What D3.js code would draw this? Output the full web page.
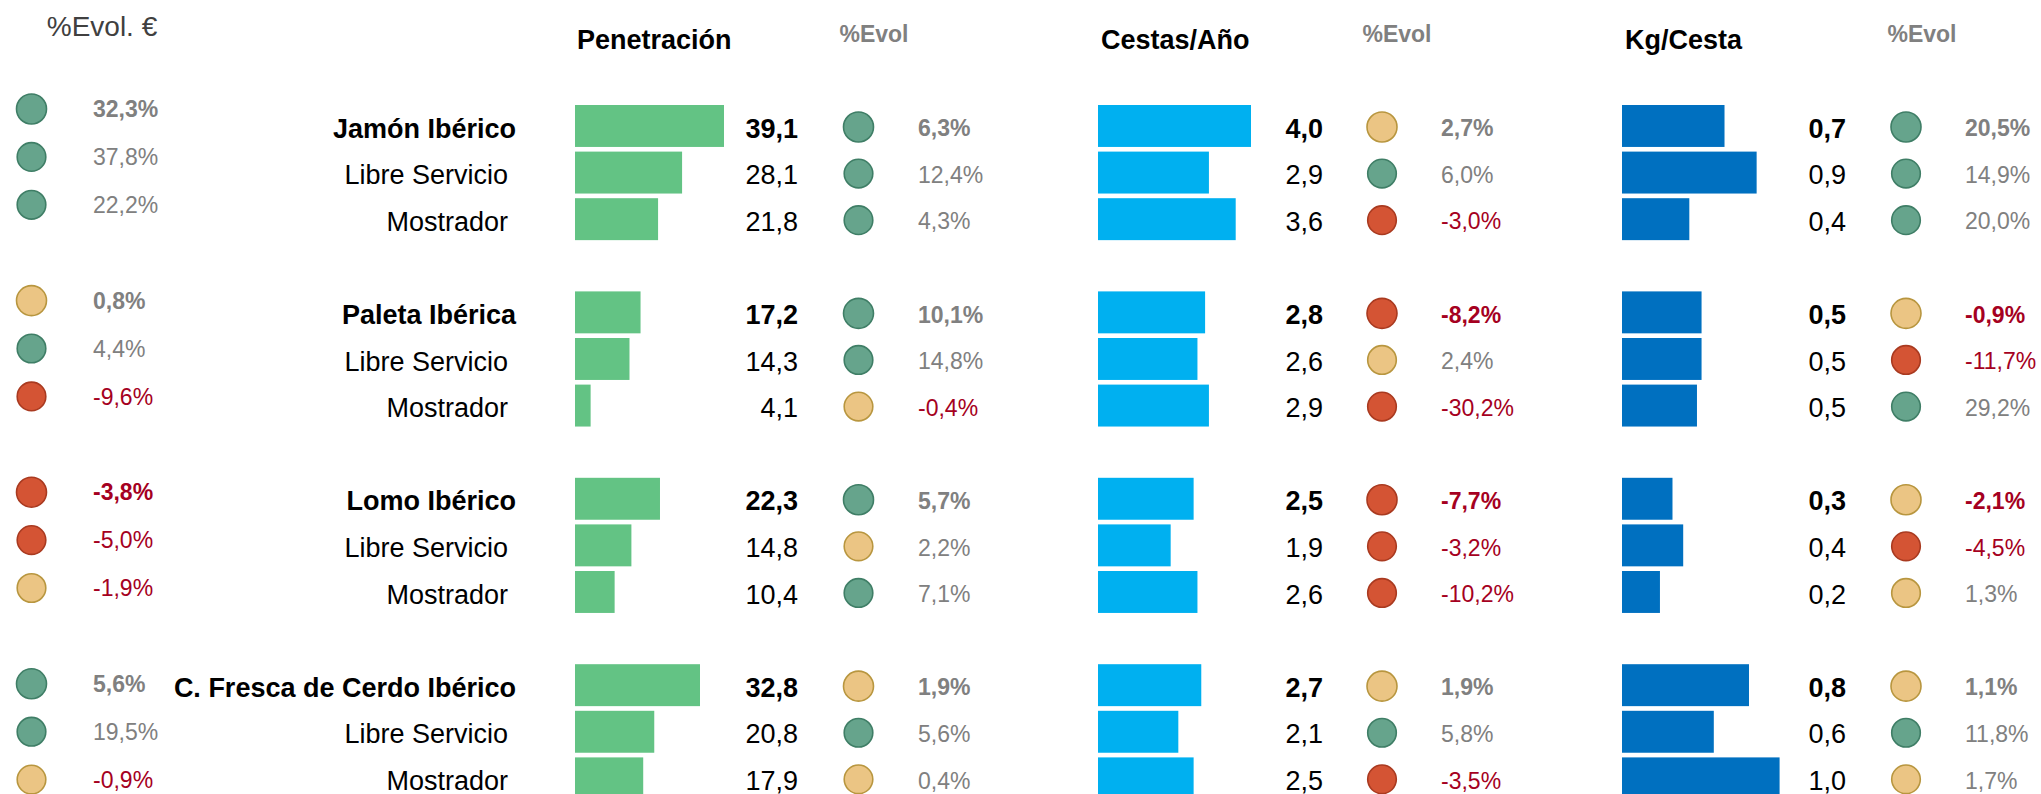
<!DOCTYPE html>
<html>
<head>
<meta charset="utf-8">
<script src="https://cdn.jsdelivr.net/npm/d3@7/dist/d3.min.js"></script>
<style>
  html, body { margin: 0; padding: 0; background: #ffffff; }
  svg { display: block; }
  text { font-family: "Liberation Sans", Arial, Helvetica, sans-serif; }
</style>
</head>
<body>
<svg id="chart" width="2041" height="794"></svg>
<script>
// ---------------- DATA ----------------
const categories = ["Jamón Ibérico", "Libre Servicio", "Mostrador",
                    "Paleta Ibérica", "Libre Servicio", "Mostrador",
                    "Lomo Ibérico", "Libre Servicio", "Mostrador",
                    "C. Fresca de Cerdo Ibérico", "Libre Servicio", "Mostrador"];
const evolEuro    = [32.3, 37.8, 22.2, 0.8, 4.4, -9.6, -3.8, -5.0, -1.9, 5.6, 19.5, -0.9];
const penetracion = [39.1, 28.1, 21.8, 17.2, 14.3, 4.1, 22.3, 14.8, 10.4, 32.8, 20.8, 17.9];
const evolPen     = [6.3, 12.4, 4.3, 10.1, 14.8, -0.4, 5.7, 2.2, 7.1, 1.9, 5.6, 0.4];
const cestasAno   = [4.0, 2.9, 3.6, 2.8, 2.6, 2.9, 2.5, 1.9, 2.6, 2.7, 2.1, 2.5];
const evolCestas  = [2.7, 6.0, -3.0, -8.2, 2.4, -30.2, -7.7, -3.2, -10.2, 1.9, 5.8, -3.5];
const kgCesta     = [0.67, 0.88, 0.44, 0.52, 0.52, 0.49, 0.33, 0.40, 0.248, 0.83, 0.60, 1.03];
const evolKg      = [20.5, 14.9, 20.0, -0.9, -11.7, 29.2, -2.1, -4.5, 1.3, 1.1, 11.8, 1.7];
const headers     = ["Penetración", "Cestas/Año", "Kg/Cesta"];
const evolHeader  = "%Evol";
const evolEuroHeader = "%Evol. €";

// ---------------- HELPERS ----------------
const svg = d3.select("#chart");
const esLocale = d3.formatLocale({ decimal: ",", thousands: ".", grouping: [3], currency: ["", " €"], minus: "-" });
const fmt1 = esLocale.format(".1f");
const fmtPct = v => fmt1(v) + "%";
const isTotal = i => i % 3 === 0;
const slot = i => Math.floor(i / 3) * 4 + (i % 3);   // blank slot between groups
const rows = d3.range(categories.length);

const C = {
  green: "#66A48C", greenS: "#3F7E66",
  yellow: "#EBC584", yellowS: "#B8963F",
  red: "#D45434", redS: "#A93A20",
  grey: "#808080", neg: "#A50021"
};
const status = v => v > 3 ? "green" : (v < -2.5 ? "red" : "yellow");

// vertical scales
const yMain = d3.scaleBand().domain(d3.range(15)).range([105, 105 + 46.6 * 14.9]).paddingInner(0.1).paddingOuter(0);
const yLeft = d3.scalePoint().domain(d3.range(15)).range([109, 109 + 47.9 * 14]);
const rowC = i => yMain(slot(i)) + yMain.bandwidth() / 2;

// horizontal scales for the three bar columns
const xPen = d3.scaleLinear().domain([0, 39.1]).range([0, 149]);
const xCes = d3.scaleLinear().domain([0, 4.0]).range([0, 153]);
const xKg  = d3.scaleLinear().domain([0, 1.0]).range([0, 153]);

function dot(g, cx, cy, v, big) {
  const s = status(v);
  g.append("circle")
    .attr("cx", cx).attr("cy", cy)
    .attr("r", big ? 15 : 14.3)
    .attr("fill", C[s]).attr("stroke", C[s + "S"]).attr("stroke-width", 1.6);
}
function evolText(g, x, y, v, bold, anchor) {
  g.append("text")
    .attr("x", x).attr("y", y).attr("dy", "0.36em")
    .attr("text-anchor", anchor || "start")
    .attr("font-size", 23)
    .attr("font-weight", bold ? "bold" : "normal")
    .attr("fill", v < 0 ? C.neg : C.grey)
    .text(fmtPct(v));
}

// ---------------- LEFT COLUMN (%Evol. €) ----------------
svg.append("text").attr("x", 102).attr("y", 36).attr("text-anchor", "middle")
  .attr("font-size", 28).attr("fill", "#404040").text(evolEuroHeader);
const gl = svg.append("g");
rows.forEach(i => {
  const cy = yLeft(slot(i));
  dot(gl, 31.5, cy, evolEuro[i], isTotal(i));
  evolText(gl, 93, cy, evolEuro[i], isTotal(i));
});

// ---------------- CATEGORY LABELS ----------------
const gc = svg.append("g");
rows.forEach(i => {
  gc.append("text")
    .attr("x", isTotal(i) ? 516 : 508)
    .attr("y", rowC(i) + 2).attr("dy", "0.36em")
    .attr("text-anchor", "end")
    .attr("font-size", 27)
    .attr("font-weight", isTotal(i) ? "bold" : "normal")
    .attr("fill", "#000")
    .text(categories[i]);
});

// ---------------- METRIC BLOCKS ----------------
const blocks = [
  { title: headers[0], vals: penetracion, evol: evolPen,    x: xPen, bx: 575,  color: "#63C384", vx: 798,  cx: 858.5, ex: 918,  tx: 577,  hx: 874 },
  { title: headers[1], vals: cestasAno,   evol: evolCestas, x: xCes, bx: 1098, color: "#00B0F0", vx: 1323, cx: 1382,  ex: 1441, tx: 1101, hx: 1397 },
  { title: headers[2], vals: kgCesta,     evol: evolKg,     x: xKg,  bx: 1622, color: "#0070C0", vx: 1846, cx: 1906,  ex: 1965, tx: 1625, hx: 1922 }
];

blocks.forEach(b => {
  const g = svg.append("g");
  g.append("text").attr("x", b.tx).attr("y", 49)
    .attr("font-size", 27).attr("font-weight", "bold").attr("fill", "#000").text(b.title);
  g.append("text").attr("x", b.hx).attr("y", 42).attr("text-anchor", "middle")
    .attr("font-size", 23).attr("font-weight", "bold").attr("fill", C.grey).text(evolHeader);

  g.selectAll("rect").data(rows).join("rect")
    .attr("x", b.bx)
    .attr("y", i => yMain(slot(i)))
    .attr("width", i => b.x(b.vals[i]))
    .attr("height", yMain.bandwidth())
    .attr("fill", b.color);

  rows.forEach(i => {
    const cy = rowC(i);
    g.append("text")
      .attr("x", b.vx).attr("y", cy + 2).attr("dy", "0.36em")
      .attr("text-anchor", "end")
      .attr("font-size", 27)
      .attr("font-weight", isTotal(i) ? "bold" : "normal")
      .attr("fill", "#000")
      .text(fmt1(b.vals[i]));
    dot(g, b.cx, cy + 1, b.evol[i], isTotal(i));
    evolText(g, b.ex, cy + 2, b.evol[i], isTotal(i));
  });
});
</script>
</body>
</html>
